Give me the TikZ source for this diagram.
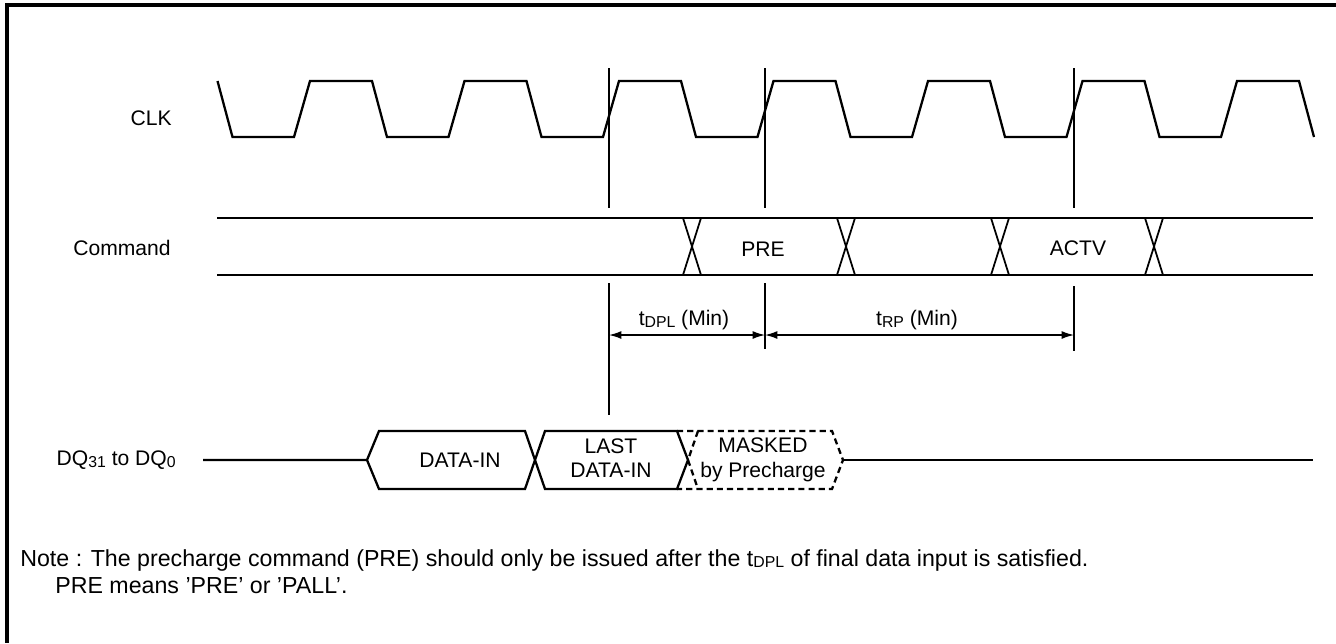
\documentclass[tikz,border=0pt]{standalone}
\usepackage{fontspec}
\setmainfont{Liberation Sans}
\usetikzlibrary{arrows.meta}

\newcommand{\sbs}[1]{\raisebox{-0.15ex}{\fontsize{9}{10}\selectfont #1}}

\begin{document}
\begin{tikzpicture}[x=0.02cm, y=-0.02cm, font=\fontsize{12}{14}\selectfont,
  sig/.style={line width=1.3pt},
  xing/.style={line width=1pt},
  guide/.style={line width=0.6pt},
  dim/.style={line width=0.8pt, {Latex[length=7pt,width=4.5pt]}-{Latex[length=7pt,width=4.5pt]}},
  lbl/.style={anchor=east, inner sep=0pt},
  notetxt/.style={anchor=west, inner sep=0pt, font=\fontsize{13.2}{15}\selectfont}]
  \useasboundingbox (0,0) rectangle (1336,643);

  % Frame
  \draw[line width=1.8pt] (1336,5) -- (7,5) -- (7,643);

  % Signal names
  \node[lbl] (clk) at (172,118) {CLK};
  \node[lbl] (cmd) at (171,248) {Command};
  \node[lbl] (dq) at (176,460) {DQ\sbs{31} to DQ\sbs{0}};

  % CLK
  \draw[sig] (217.5,81) -- (232.5,137)
    \foreach \k in {0,...,6} { -- ({294+\k*154.5},137) -- ({310+\k*154.5},81)
      -- ({372+\k*154.5},81) -- ({387+\k*154.5},137) };

  % Command bus
  \draw[sig] (217,218) -- (1313,218) (217,275) -- (1313,275);
  \foreach \c in {692,846,1000,1154}
    \draw[xing] (\c-9,218) -- (\c+9,275) (\c+9,218) -- (\c-9,275);
  \node (pre) at (763,249) {PRE};
  \node (actv) at (1078,248) {ACTV};

  % Reference lines
  \coordinate (t0) at (609,335);
  \coordinate (t1) at (765,335);
  \coordinate (t2) at (1074,335);
  \draw[guide] (609,68) -- (609,208) (609,283) -- (609,415);
  \draw[guide] (765,68) -- (765,208) (765,283) -- (765,349);
  \draw[guide] (1074,68) -- (1074,208) (1074,286) -- (1074,351);

  % Timing
  \draw[dim] (t0) -- (t1);
  \draw[dim] (t1) -- (t2);
  \node (tdpl) at (684,320) {t\sbs{DPL} (Min)};
  \node (trp) at (917,320) {t\sbs{RP} (Min)};

  % DQ bus
  \draw[sig] (203,460) -- (367,460) -- (379,431) -- (525,431) -- (545,489) -- (677,489)
    -- (688,460) -- (677,431) -- (545,431) -- (525,489) -- (379,489) -- (367,460);
  \draw[sig, dash pattern=on 3.5pt off 2.3pt] (677,431) -- (832,431) -- (843,460) -- (832,489)
    -- (677,489) (698,431) -- (688,460) -- (698,489);
  \draw[sig] (843,460) -- (1313,460);
  \node (din) at (460,460) {DATA-IN};
  \node[align=center] (last) at (611,458) {LAST\\DATA-IN};
  \node[align=center] (mask) at (763,460) {MASKED\\by Precharge};

  % Note
  \node[notetxt] (note) at (20,560)
    {Note : The precharge command (PRE) should only be issued after the t\sbs{DPL} of final data input is satisfied.};
  \node[notetxt] (note2) at (55,586) {PRE means 'PRE' or 'PALL'.};
\end{tikzpicture}
\end{document}
